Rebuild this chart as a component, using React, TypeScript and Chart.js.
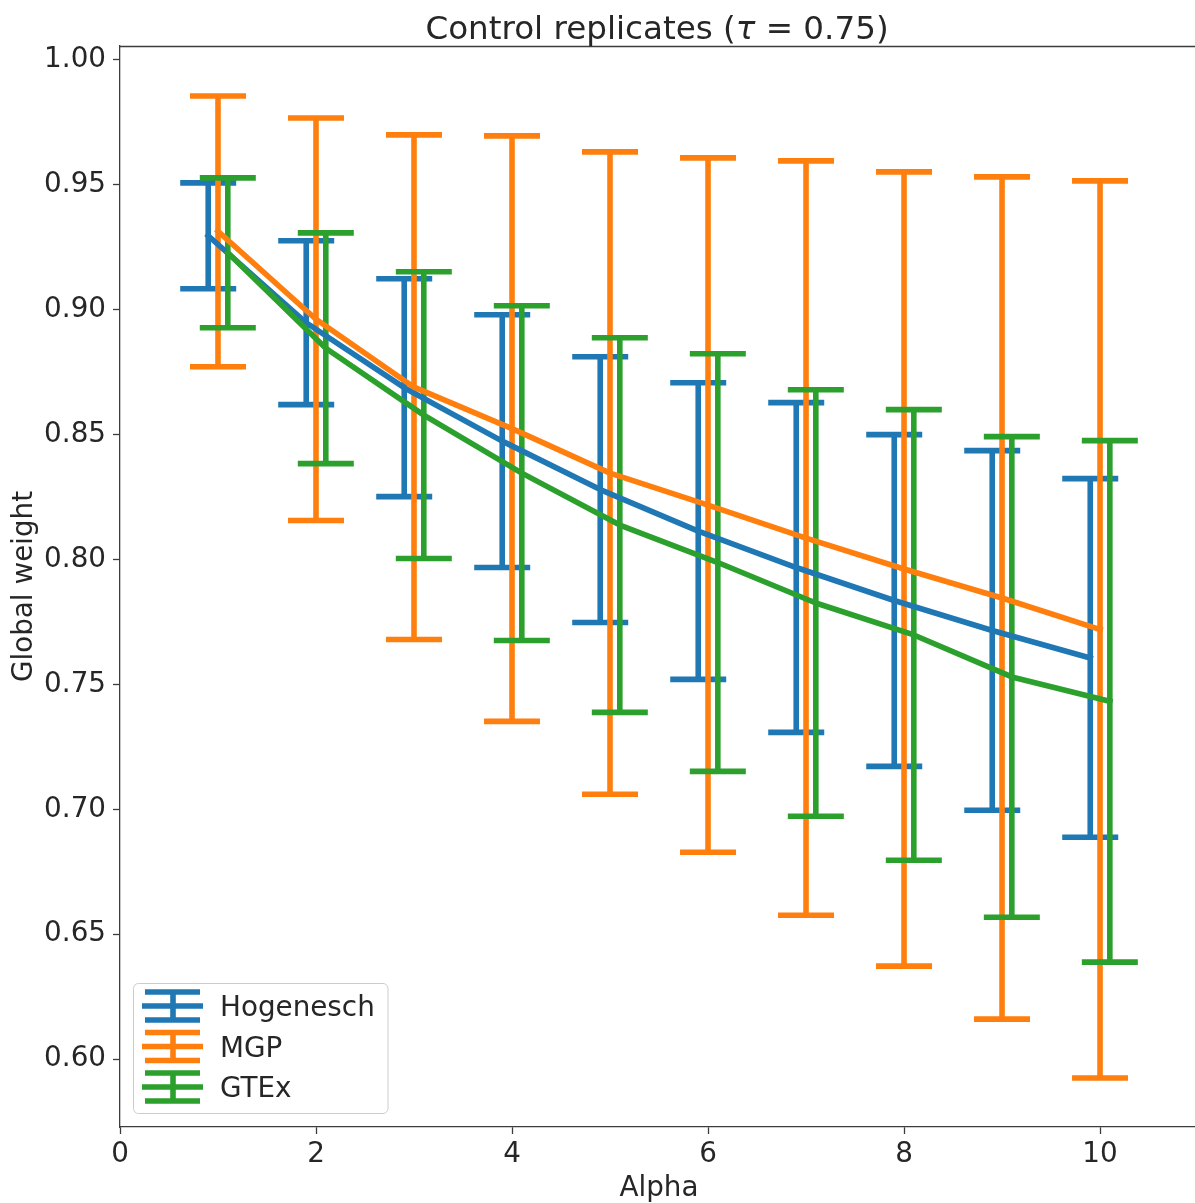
import React, { useEffect, useRef } from "react";
import { Chart, registerables } from "chart.js";

Chart.register(...registerables);

// ---------- data ----------
const alphas = [1, 2, 3, 4, 5, 6, 7, 8, 9, 10];
const seriesNames = ["Hogenesch", "MGP", "GTEx"];
const seriesOffsets = [-0.1, 0, 0.1];
const seriesColors = ["#1f77b4", "#ff7f0e", "#2ca02c"];

const hogeneschMean = [0.9296, 0.8948, 0.8688, 0.8474, 0.828, 0.8114, 0.7968, 0.7836, 0.7716, 0.7606];
const hogeneschErr = [0.0212, 0.0328, 0.0436, 0.0506, 0.0532, 0.0594, 0.066, 0.0664, 0.072, 0.0718];

const mgpMean = [0.9314, 0.8962, 0.869, 0.8524, 0.8346, 0.8218, 0.8086, 0.7962, 0.7846, 0.772];
const mgpErr = [0.0542, 0.0806, 0.101, 0.1172, 0.1286, 0.139, 0.151, 0.159, 0.1686, 0.1796];

const gtexMean = [0.9228, 0.8846, 0.8578, 0.8346, 0.8138, 0.7988, 0.7826, 0.7698, 0.753, 0.7432];
const gtexErr = [0.03, 0.0462, 0.0574, 0.067, 0.075, 0.0836, 0.0854, 0.0902, 0.0962, 0.1044];

const xTickValues = [0, 2, 4, 6, 8, 10];
const yTickValues = [0.6, 0.65, 0.7, 0.75, 0.8, 0.85, 0.9, 0.95, 1.0];

const titleStart = "Control replicates (";
const titleSymbol = "τ";
const titleEnd = " = 0.75)";
const xLabel = "Alpha";
const yLabel = "Global weight";

const means = [hogeneschMean, mgpMean, gtexMean];
const errs = [hogeneschErr, mgpErr, gtexErr];

// ---------- styling ----------
const W = 1195;
const H = 1203;
const FONT = "'DejaVu Sans', sans-serif";
const TEXT = "#262626";
const SPINE = "#3c3c3c";
const LW = 5.6;
const CAP_HALF = 28;

const errorBarPlugin = {
  id: "errorBars",
  beforeDatasetsDraw(chart: any) {
    const { ctx, chartArea, scales } = chart;
    const xs = scales.x;
    const ys = scales.y;
    ctx.save();
    ctx.beginPath();
    ctx.rect(chartArea.left, chartArea.top, chartArea.right - chartArea.left, chartArea.bottom - chartArea.top);
    ctx.clip();
    ctx.lineCap = "butt";
    ctx.lineWidth = LW;
    for (let k = 0; k < seriesNames.length; k++) {
      ctx.strokeStyle = seriesColors[k];
      for (let i = 0; i < alphas.length; i++) {
        const px = xs.getPixelForValue(alphas[i] + seriesOffsets[k]);
        const yt = ys.getPixelForValue(means[k][i] + errs[k][i]);
        const yb = ys.getPixelForValue(means[k][i] - errs[k][i]);
        ctx.beginPath();
        ctx.moveTo(px, yt);
        ctx.lineTo(px, yb);
        ctx.stroke();
        ctx.beginPath();
        ctx.moveTo(px - CAP_HALF, yt);
        ctx.lineTo(px + CAP_HALF, yt);
        ctx.moveTo(px - CAP_HALF, yb);
        ctx.lineTo(px + CAP_HALF, yb);
        ctx.stroke();
      }
    }
    ctx.restore();
  },
};

const decorPlugin = {
  id: "decor",
  afterDraw(chart: any) {
    const { ctx, chartArea } = chart;
    ctx.save();
    // top spine
    ctx.strokeStyle = SPINE;
    ctx.lineWidth = 1.3;
    ctx.beginPath();
    ctx.moveTo(chartArea.left, Math.round(chartArea.top) + 0.5);
    ctx.lineTo(W, Math.round(chartArea.top) + 0.5);
    ctx.stroke();

    // title
    ctx.fillStyle = TEXT;
    ctx.textBaseline = "alphabetic";
    ctx.textAlign = "left";
    const tNorm = `32.6px ${FONT}`;
    const tItal = `italic 32.6px ${FONT}`;
    ctx.font = tNorm;
    const w1 = ctx.measureText(titleStart).width;
    const w3 = ctx.measureText(titleEnd).width;
    ctx.font = tItal;
    const w2 = ctx.measureText(titleSymbol).width;
    const total = w1 + w2 + w3;
    let tx = 657 - total / 2;
    const ty = 38.5;
    ctx.font = tNorm;
    ctx.fillText(titleStart, tx, ty);
    tx += w1;
    ctx.font = tItal;
    ctx.fillText(titleSymbol, tx, ty);
    tx += w2;
    ctx.font = tNorm;
    ctx.fillText(titleEnd, tx, ty);

    // axis labels
    ctx.font = `27.8px ${FONT}`;
    ctx.textAlign = "center";
    ctx.fillText(xLabel, (chartArea.left + 1198) / 2, 1196);
    ctx.save();
    ctx.translate(32, (chartArea.top + chartArea.bottom) / 2);
    ctx.rotate(-Math.PI / 2);
    ctx.fillText(yLabel, 0, 0);
    ctx.restore();

    // legend
    const bx = 133.5, by = 983.5, bw = 254.5, bh = 130, r = 5;
    ctx.beginPath();
    ctx.moveTo(bx + r, by);
    ctx.lineTo(bx + bw - r, by);
    ctx.arcTo(bx + bw, by, bx + bw, by + r, r);
    ctx.lineTo(bx + bw, by + bh - r);
    ctx.arcTo(bx + bw, by + bh, bx + bw - r, by + bh, r);
    ctx.lineTo(bx + r, by + bh);
    ctx.arcTo(bx, by + bh, bx, by + bh - r, r);
    ctx.lineTo(bx, by + r);
    ctx.arcTo(bx, by, bx + r, by, r);
    ctx.closePath();
    ctx.fillStyle = "rgba(255,255,255,0.8)";
    ctx.fill();
    ctx.strokeStyle = "#cccccc";
    ctx.lineWidth = 1;
    ctx.stroke();

    const rows = [1006, 1046.5, 1087];
    for (let k = 0; k < seriesNames.length; k++) {
      const ry = rows[k];
      ctx.strokeStyle = seriesColors[k];
      ctx.lineWidth = LW;
      ctx.lineCap = "butt";
      ctx.beginPath();
      ctx.moveTo(142, ry);
      ctx.lineTo(203, ry);
      ctx.moveTo(173, ry - 14);
      ctx.lineTo(173, ry + 14);
      ctx.moveTo(145, ry - 14);
      ctx.lineTo(200, ry - 14);
      ctx.moveTo(145, ry + 14);
      ctx.lineTo(200, ry + 14);
      ctx.stroke();
      ctx.fillStyle = TEXT;
      ctx.font = `27.8px ${FONT}`;
      ctx.textAlign = "left";
      ctx.textBaseline = "alphabetic";
      ctx.fillText(seriesNames[k], 220, ry + 10);
    }
    ctx.restore();
  },
};

export default function App() {
  const canvasRef = useRef<HTMLCanvasElement | null>(null);

  useEffect(() => {
    const canvas = canvasRef.current;
    if (!canvas) return;
    const datasets = seriesNames.map((name, k) => ({
      label: name,
      data: alphas.map((a, i) => ({ x: a + seriesOffsets[k], y: means[k][i] })),
      borderColor: seriesColors[k],
      backgroundColor: seriesColors[k],
      borderWidth: LW,
      pointRadius: 0,
      pointHoverRadius: 0,
      fill: false,
      tension: 0,
      borderCapStyle: "square",
      borderJoinStyle: "round",
      order: seriesNames.length - 1 - k,
    }));

    const chart = new Chart(canvas, {
      type: "line",
      data: { datasets } as any,
      plugins: [errorBarPlugin, decorPlugin],
      options: {
        responsive: false,
        animation: false,
        devicePixelRatio: 1,
        layout: { padding: { top: 46, left: 0, right: 0, bottom: 0 } },
        plugins: {
          legend: { display: false },
          title: { display: false },
          tooltip: { enabled: false },
        },
        scales: {
          x: {
            type: "linear",
            min: 0,
            max: 10.969,
            bounds: "data",
            afterBuildTicks: (s: any) => {
              s.ticks = xTickValues.map((v) => ({ value: v }));
            },
            afterFit: (s: any) => {
              s.height = 76;
            },
            grid: {
              drawOnChartArea: false,
              drawTicks: true,
              tickLength: 7,
              tickColor: SPINE,
              tickWidth: 1.3,
            },
            border: { display: true, color: SPINE, width: 1.3 },
            ticks: {
              autoSkip: false,
              maxRotation: 0,
              minRotation: 0,
              padding: 4,
              color: TEXT,
              font: { family: FONT, size: 27.8 },
              callback: (v: any) => String(v),
            },
          },
          y: {
            type: "linear",
            min: 0.5728,
            max: 1.0056,
            bounds: "data",
            afterBuildTicks: (s: any) => {
              s.ticks = yTickValues.map((v) => ({ value: v }));
            },
            afterFit: (s: any) => {
              s.width = 120;
            },
            grid: {
              drawOnChartArea: false,
              drawTicks: true,
              tickLength: 7,
              tickColor: SPINE,
              tickWidth: 1.3,
            },
            border: { display: true, color: SPINE, width: 1.3 },
            ticks: {
              autoSkip: false,
              padding: 7,
              color: TEXT,
              font: { family: FONT, size: 27.8 },
              callback: (v: any) => Number(v).toFixed(2),
            },
          },
        },
      } as any,
    });
    return () => chart.destroy();
  }, []);

  return (
    <div style={{ position: "absolute", left: 0, top: 0, width: W, height: H, background: "#fff" }}>
      <canvas ref={canvasRef} width={W} height={H} style={{ display: "block" }} />
    </div>
  );
}
